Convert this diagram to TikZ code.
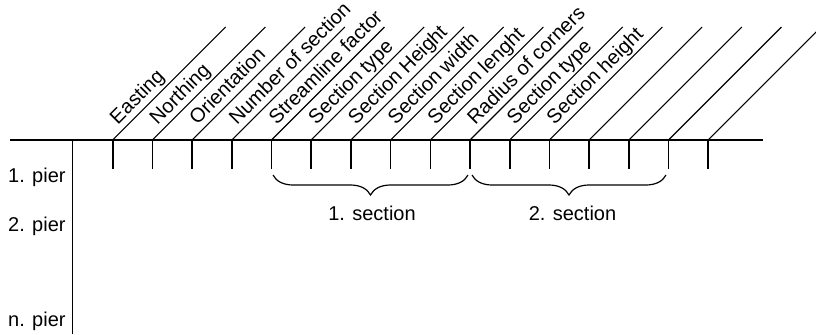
\documentclass[tikz,border=0pt]{standalone}
\usepackage{fontspec}
\setmainfont{Liberation Sans}
\usetikzlibrary{calc,decorations.pathreplacing}
\tikzset{
  thick line/.style={line width=0.8pt},
  slant line/.style={line width=0.55pt},
  field label/.style={rotate=45,anchor=base west,inner sep=0pt},
  pier label/.style={anchor=base east,inner sep=0pt},
  sec brace/.style={line width=0.6pt,decorate,decoration={brace,mirror,amplitude=10pt}},
}
\begin{document}
\begin{tikzpicture}[x=0.5pt,y=0.5pt,font=\fontsize{10}{12}\selectfont]
   \clip (0,0) rectangle (816,334);
   \draw[thick line] (10,194) -- (763,194);
   \draw[thick line] (72.5,194) -- (72.5,0);

   \foreach \i in {1,...,16}{
     \coordinate (t\i) at ({112.7+(\i-1)*39.7},194);
     \draw[thick line] (t\i) -- ++(0,-29);
     \draw[slant line] (t\i) -- ++(113,113);
   }

   \foreach \i/\txt in {1/Easting,2/Northing,3/Orientation,4/Number of section,
       5/Streamline factor,6/Section type,7/Section Height,8/Section width,
       9/Section lenght,10/Radius of corners,11/Section type,12/Section height}
     \node[field label] (f\i) at ($(t\i)+(5,14.5)$) {\txt};

   \node[pier label] (p1) at (66,152) {1. pier};
   \node[pier label] (p2) at (66,103) {2. pier};
   \node[pier label] (pn) at (66,8) {n. pier};

   \coordinate (b1) at (273,159);
   \coordinate (b2) at (468,159);
   \coordinate (b3) at (472,159);
   \coordinate (b4) at (666,159);
   \draw[sec brace] (b1) -- (b2);
   \draw[sec brace] (b3) -- (b4);
   \node[anchor=base] (s1) at (372,114) {1. section};
   \node[anchor=base] (s2) at (572.5,114) {2. section};
\end{tikzpicture}
\end{document}
